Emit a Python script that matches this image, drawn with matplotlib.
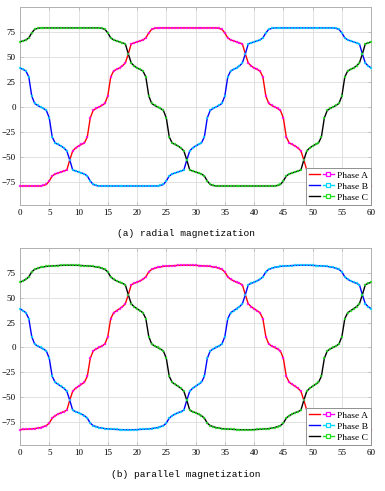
import matplotlib
matplotlib.use('Agg')
import matplotlib.pyplot as plt
import numpy as np
from matplotlib.lines import Line2D
from matplotlib.legend_handler import HandlerTuple

# sample positions (0 .. 60, every 0.5)
x = np.arange(0, 60.5, 0.5)

# (a) radial magnetization
radial_a = [
    -79, -79, -79, -79, -79, -79, -79, -79, -78.5, -77.5,
    -74, -69, -67, -66, -65, -64, -63, -53, -44, -41,
    -39, -37.5, -36, -30, -11, -3.5, -1.5, 0, 1.5, 3.5,
    11, 30, 36, 37.5, 39, 41, 44, 53, 63, 64,
    65, 66, 67, 69, 74, 77.5, 78.5, 79, 79, 79,
    79, 79, 79, 79, 79, 79, 79, 79, 79, 79,
    79, 79, 79, 79, 79, 79, 79, 79, 78.5, 77.5,
    74, 69, 67, 66, 65, 64, 63, 53, 44, 41,
    39, 37.5, 36, 30, 11, 3.5, 1.5, 0, -1.5, -3.5,
    -11, -30, -36, -37.5, -39, -41, -44, -53, -63, -64,
    -65, -66, -67, -69, -74, -77.5, -78.5, -79, -79, -79,
    -79, -79, -79, -79, -79, -79, -79, -79, -79, -79,
    -79]
radial_b = [
    39, 37.5, 36, 30, 11, 3.5, 1.5, 0, -1.5, -3.5,
    -11, -30, -36, -37.5, -39, -41, -44, -53, -63, -64,
    -65, -66, -67, -69, -74, -77.5, -78.5, -79, -79, -79,
    -79, -79, -79, -79, -79, -79, -79, -79, -79, -79,
    -79, -79, -79, -79, -79, -79, -79, -79, -78.5, -77.5,
    -74, -69, -67, -66, -65, -64, -63, -53, -44, -41,
    -39, -37.5, -36, -30, -11, -3.5, -1.5, 0, 1.5, 3.5,
    11, 30, 36, 37.5, 39, 41, 44, 53, 63, 64,
    65, 66, 67, 69, 74, 77.5, 78.5, 79, 79, 79,
    79, 79, 79, 79, 79, 79, 79, 79, 79, 79,
    79, 79, 79, 79, 79, 79, 79, 79, 78.5, 77.5,
    74, 69, 67, 66, 65, 64, 63, 53, 44, 41,
    39]
radial_c = [
    65, 66, 67, 69, 74, 77.5, 78.5, 79, 79, 79,
    79, 79, 79, 79, 79, 79, 79, 79, 79, 79,
    79, 79, 79, 79, 79, 79, 79, 79, 78.5, 77.5,
    74, 69, 67, 66, 65, 64, 63, 53, 44, 41,
    39, 37.5, 36, 30, 11, 3.5, 1.5, 0, -1.5, -3.5,
    -11, -30, -36, -37.5, -39, -41, -44, -53, -63, -64,
    -65, -66, -67, -69, -74, -77.5, -78.5, -79, -79, -79,
    -79, -79, -79, -79, -79, -79, -79, -79, -79, -79,
    -79, -79, -79, -79, -79, -79, -79, -79, -78.5, -77.5,
    -74, -69, -67, -66, -65, -64, -63, -53, -44, -41,
    -39, -37.5, -36, -30, -11, -3.5, -1.5, 0, 1.5, 3.5,
    11, 30, 36, 37.5, 39, 41, 44, 53, 63, 64,
    65]

# (b) parallel magnetization
parallel_a = [
    -82.5, -82.4, -82.2, -82, -81.8, -81.5, -81, -80.5, -79.5, -78.5,
    -76, -71, -68.5, -67, -65.5, -64.5, -63, -53, -44, -41,
    -39, -37, -35, -29, -11, -3.5, -1.5, 0, 1.5, 3.5,
    11, 29, 35, 37, 39, 41, 44, 53, 63, 64.5,
    65.5, 67, 68.5, 71, 76, 78.5, 79.5, 80.5, 81, 81.5,
    81.8, 82, 82.2, 82.4, 82.5, 82.6, 82.7, 82.7, 82.7, 82.6,
    82.5, 82.4, 82.2, 82, 81.8, 81.5, 81, 80.5, 79.5, 78.5,
    76, 71, 68.5, 67, 65.5, 64.5, 63, 53, 44, 41,
    39, 37, 35, 29, 11, 3.5, 1.5, 0, -1.5, -3.5,
    -11, -29, -35, -37, -39, -41, -44, -53, -63, -64.5,
    -65.5, -67, -68.5, -71, -76, -78.5, -79.5, -80.5, -81, -81.5,
    -81.8, -82, -82.2, -82.4, -82.5, -82.6, -82.7, -82.7, -82.7, -82.6,
    -82.5]
parallel_b = [
    39, 37, 35, 29, 11, 3.5, 1.5, 0, -1.5, -3.5,
    -11, -29, -35, -37, -39, -41, -44, -53, -63, -64.5,
    -65.5, -67, -68.5, -71, -76, -78.5, -79.5, -80.5, -81, -81.5,
    -81.8, -82, -82.2, -82.4, -82.5, -82.6, -82.7, -82.7, -82.7, -82.6,
    -82.5, -82.4, -82.2, -82, -81.8, -81.5, -81, -80.5, -79.5, -78.5,
    -76, -71, -68.5, -67, -65.5, -64.5, -63, -53, -44, -41,
    -39, -37, -35, -29, -11, -3.5, -1.5, 0, 1.5, 3.5,
    11, 29, 35, 37, 39, 41, 44, 53, 63, 64.5,
    65.5, 67, 68.5, 71, 76, 78.5, 79.5, 80.5, 81, 81.5,
    81.8, 82, 82.2, 82.4, 82.5, 82.6, 82.7, 82.7, 82.7, 82.6,
    82.5, 82.4, 82.2, 82, 81.8, 81.5, 81, 80.5, 79.5, 78.5,
    76, 71, 68.5, 67, 65.5, 64.5, 63, 53, 44, 41,
    39]
parallel_c = [
    65.5, 67, 68.5, 71, 76, 78.5, 79.5, 80.5, 81, 81.5,
    81.8, 82, 82.2, 82.4, 82.5, 82.6, 82.7, 82.7, 82.7, 82.6,
    82.5, 82.4, 82.2, 82, 81.8, 81.5, 81, 80.5, 79.5, 78.5,
    76, 71, 68.5, 67, 65.5, 64.5, 63, 53, 44, 41,
    39, 37, 35, 29, 11, 3.5, 1.5, 0, -1.5, -3.5,
    -11, -29, -35, -37, -39, -41, -44, -53, -63, -64.5,
    -65.5, -67, -68.5, -71, -76, -78.5, -79.5, -80.5, -81, -81.5,
    -81.8, -82, -82.2, -82.4, -82.5, -82.6, -82.7, -82.7, -82.7, -82.6,
    -82.5, -82.4, -82.2, -82, -81.8, -81.5, -81, -80.5, -79.5, -78.5,
    -76, -71, -68.5, -67, -65.5, -64.5, -63, -53, -44, -41,
    -39, -37, -35, -29, -11, -3.5, -1.5, 0, 1.5, 3.5,
    11, 29, 35, 37, 39, 41, 44, 53, 63, 64.5,
    65.5]

labels = ['Phase A', 'Phase B', 'Phase C']
line_colors = ['#ff0000', '#0000ff', '#000000']
mark_colors = ['#ff00ff', '#00d8ff', '#22e022']
xticks = np.arange(0, 61, 5)
yticks = [-75, -50, -25, 0, 25, 50, 75]
captions = ['(a) radial magnetization', '(b) parallel magnetization']

serif = 'Liberation Serif'

fig = plt.figure(figsize=(3.85, 4.91), dpi=100)

# axes positions in figure fraction
boxes = [[0.052, 0.5825, 0.912, 0.4035], [0.052, 0.0937, 0.912, 0.4012]]
cap_y = [0.525, 0.033]
datasets = [(radial_a, radial_b, radial_c), (parallel_a, parallel_b, parallel_c)]

for k in range(2):
    ax = fig.add_axes(boxes[k])
    for series, lc, mc in zip(datasets[k], line_colors, mark_colors):
        ax.plot(x, series, color=lc, lw=1.0, zorder=3)
        ax.plot(x, series, ls='none', marker='s', ms=2.0, mfc=mc, mec=mc,
                mew=0.2, alpha=0.75, zorder=4, clip_on=False)

    ax.set_xlim(0, 60)
    ax.set_ylim(-98, 100)
    ax.set_xticks(xticks)
    ax.set_yticks(yticks)
    ax.grid(color='#dddddd', lw=0.6, zorder=0)
    ax.set_axisbelow(True)
    for s in ax.spines.values():
        s.set_color('#b0b0b0')
        s.set_linewidth(0.7)
    ax.tick_params(direction='in', length=2, width=0.5, color='#b0b0b0',
                   labelsize=6.5, pad=3, top=True, right=True)
    for lab in ax.get_xticklabels() + ax.get_yticklabels():
        lab.set_fontfamily(serif)

    handles = []
    for lc, mc in zip(line_colors, mark_colors):
        h1 = Line2D([], [], color=lc, lw=1.0)
        h2 = Line2D([], [], color=mc, lw=1.0, marker='s', ms=3.5,
                    mfc='white', mec=mc, mew=0.9)
        handles.append((h1, h2))
    leg = ax.legend(handles, labels, handler_map={tuple: HandlerTuple(ndivide=None, pad=0.3)},
                    loc='lower right', borderaxespad=0, handlelength=2.6,
                    handletextpad=0.3, labelspacing=0.25, borderpad=0.35,
                    fancybox=False, framealpha=1, edgecolor='#909090',
                    prop={'family': serif, 'size': 6.8})
    leg.get_frame().set_linewidth(0.7)
    leg.set_zorder(10)

    fig.text(0.482, cap_y[k], captions[k], ha='center', va='center',
             fontsize=6.8, family='Liberation Mono')

plt.savefig('out.png', dpi=100)
